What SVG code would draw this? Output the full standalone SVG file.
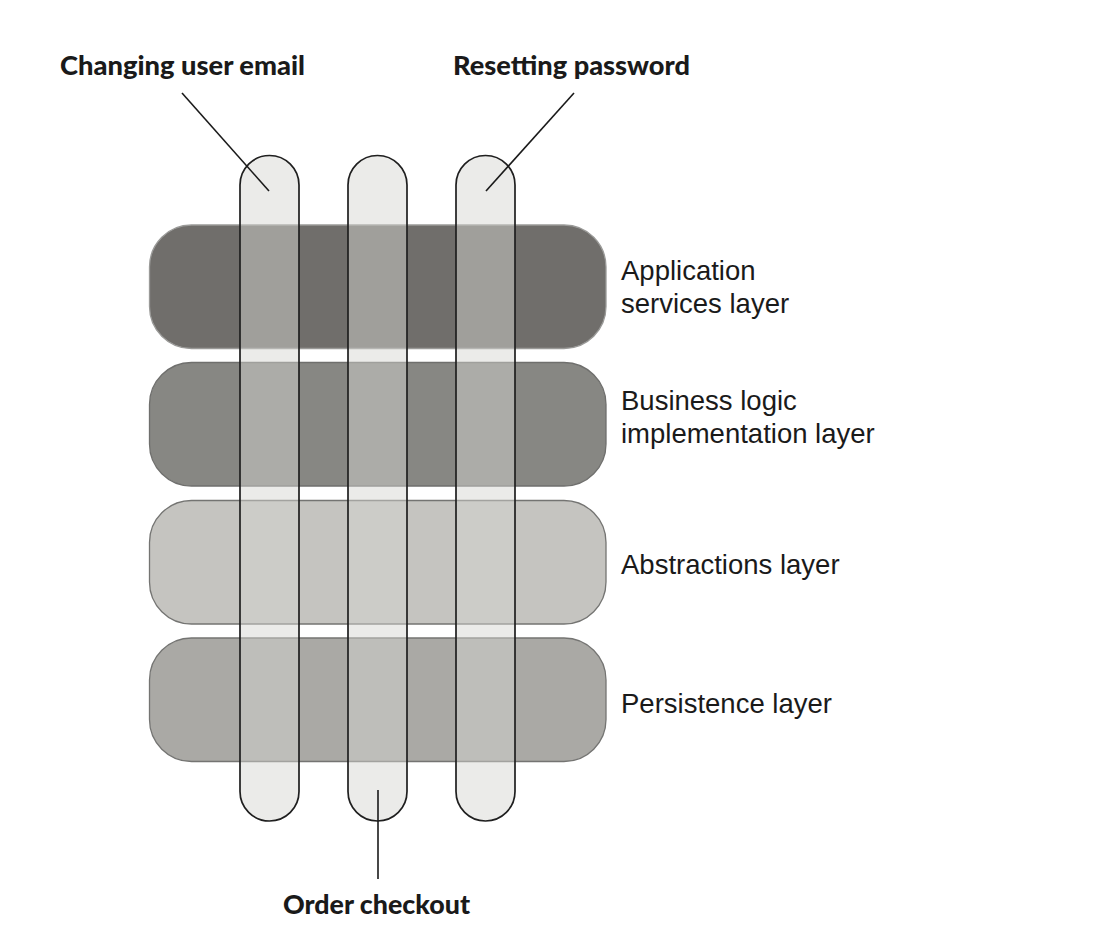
<svg xmlns="http://www.w3.org/2000/svg" width="1094" height="942" viewBox="0 0 1094 942">
  <style>
    .layer { stroke-width: 1.3; }
    .pill { fill: #d5d5d0; fill-opacity: 0.475; stroke: #1f1f1f; stroke-width: 1.7; }
    .lead { stroke: #1a1a1a; stroke-width: 1.6; fill: none; }
    .flow { font-family: Lato, "Open Sans", "Liberation Sans", sans-serif; font-weight: 900; font-size: 27px; fill: #1a1a1a; }
    .side { font-family: "Liberation Sans", Arial, sans-serif; font-size: 27.5px; fill: #1a1a1a; }
  </style>
  <rect width="1094" height="942" fill="#ffffff"/>

  <!-- horizontal layers -->
  <g id="layer-application">
    <rect class="layer" x="149.5" y="225" width="456.5" height="123.5" rx="42" fill="#706e6b" stroke="#9a9a98"/>
    <text class="side" x="621" y="280">Application</text>
    <text class="side" x="621" y="313">services layer</text>
  </g>
  <g id="layer-business">
    <rect class="layer" x="149.5" y="362.5" width="456.5" height="123.5" rx="42" fill="#878783" stroke="#6f6f6d"/>
    <text class="side" x="621" y="410">Business logic</text>
    <text class="side" x="621" y="443">implementation layer</text>
  </g>
  <g id="layer-abstractions">
    <rect class="layer" x="149.5" y="500.5" width="456.5" height="123.5" rx="42" fill="#c5c4c0" stroke="#747472"/>
    <text class="side" x="621" y="574">Abstractions layer</text>
  </g>
  <g id="layer-persistence">
    <rect class="layer" x="149.5" y="638" width="456.5" height="123.5" rx="42" fill="#aaa9a5" stroke="#747472"/>
    <text class="side" x="621" y="713">Persistence layer</text>
  </g>

  <!-- vertical use-case slices -->
  <g id="slice-email">
    <rect class="pill" x="240" y="155.5" width="59" height="665.5" rx="29.5"/>
  </g>
  <g id="slice-checkout">
    <rect class="pill" x="348" y="155.5" width="59" height="665.5" rx="29.5"/>
  </g>
  <g id="slice-password">
    <rect class="pill" x="456" y="155.5" width="59" height="665.5" rx="29.5"/>
  </g>

  <!-- leader lines -->
  <g id="connectors">
    <line class="lead" x1="182" y1="93" x2="269" y2="191"/>
    <line class="lead" x1="574" y1="93" x2="486" y2="191"/>
    <line class="lead" x1="378" y1="790" x2="378" y2="879"/>
  </g>

  <!-- slice captions -->
  <g id="label-email">
    <text class="flow" x="60" y="75" textLength="245" lengthAdjust="spacingAndGlyphs">Changing user email</text>
  </g>
  <g id="label-password">
    <text class="flow" x="453" y="75" textLength="237" lengthAdjust="spacingAndGlyphs">Resetting password</text>
  </g>
  <g id="label-checkout">
    <text class="flow" x="283" y="914" textLength="187" lengthAdjust="spacingAndGlyphs">Order checkout</text>
  </g>
</svg>
